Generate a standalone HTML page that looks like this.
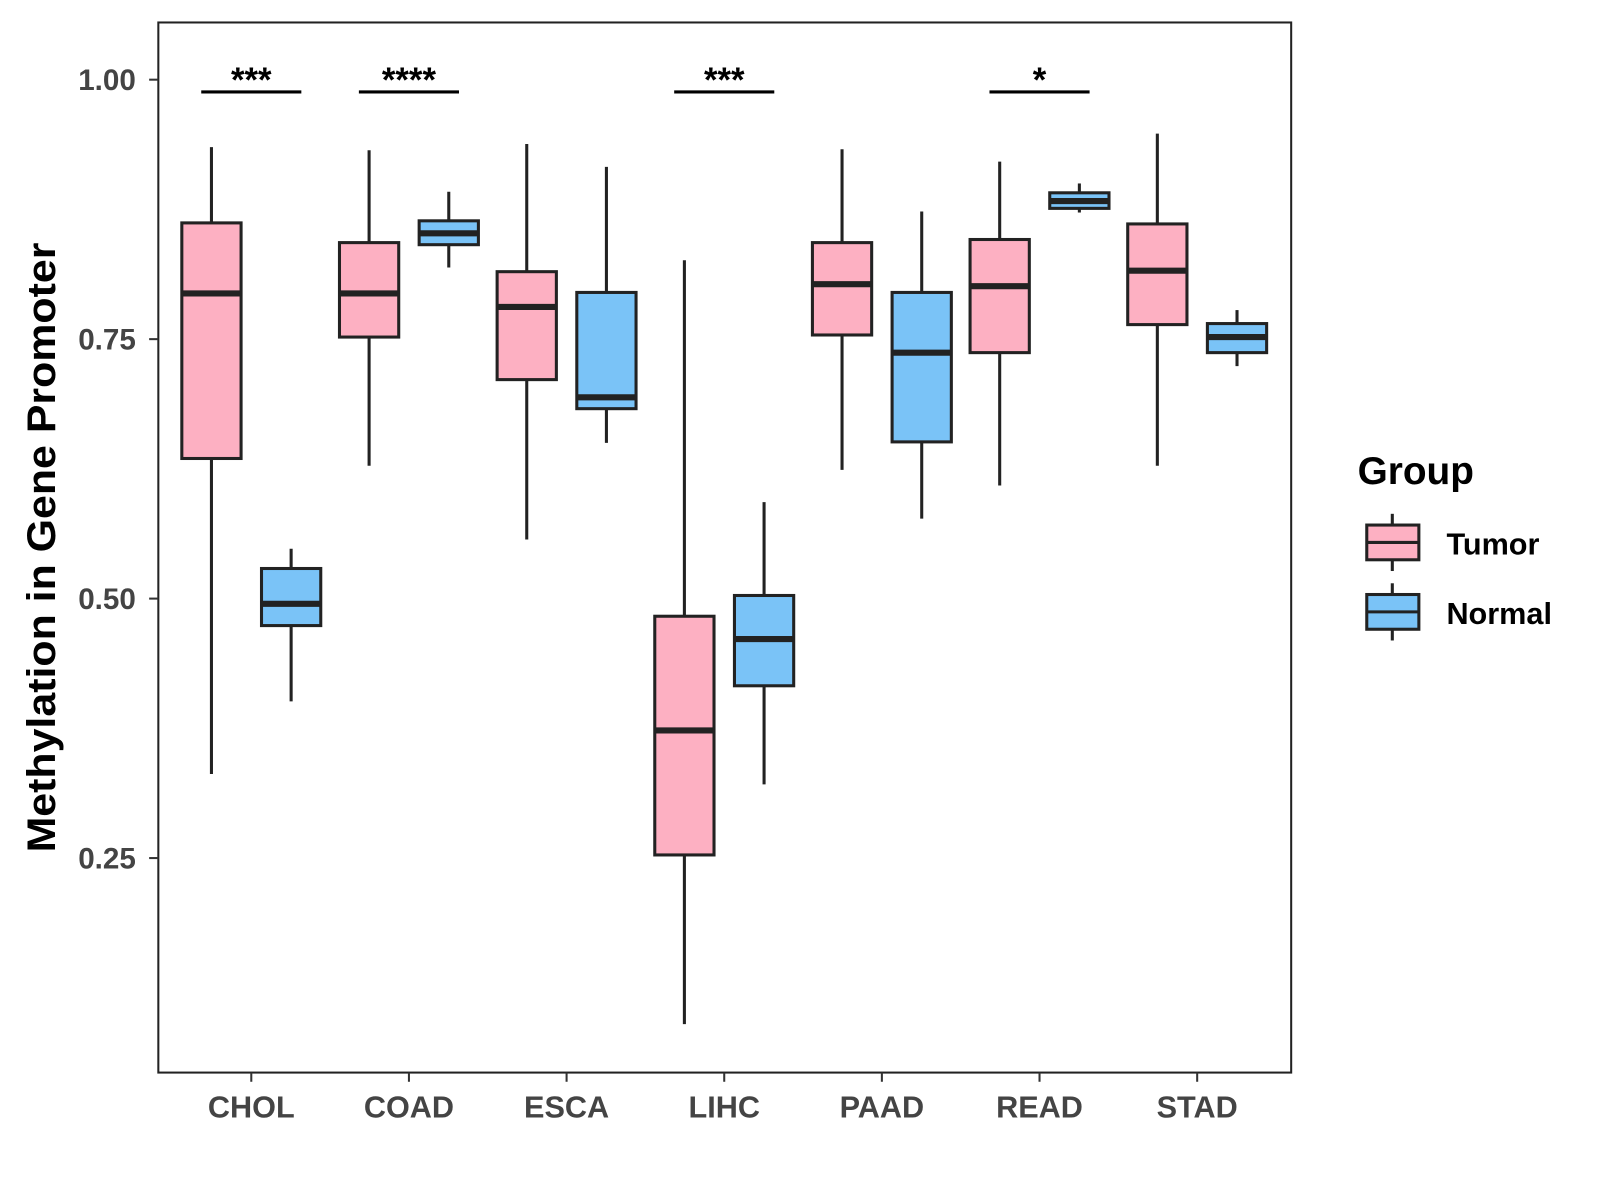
<!DOCTYPE html>
<html><head><meta charset="utf-8"><style>
html,body{margin:0;padding:0;background:#fff;}
svg{display:block;font-family:"Liberation Sans",sans-serif;}
</style></head><body>
<svg id="chart" width="1600" height="1200" viewBox="0 0 1600 1200" xmlns="http://www.w3.org/2000/svg">
<rect x="0" y="0" width="1600" height="1200" fill="#fff"/>
<g transform="scale(1.0215)">
<g id="marks"></g>
<g id="axes"></g>
<g>
  <text x="1329" y="474" font-size="38" font-weight="bold" fill="#000">Group</text>
  <g>
    <line x1="1363" y1="503" x2="1363" y2="559" stroke="#222" stroke-width="3"/>
    <rect x="1338" y="514" width="51" height="34" fill="#FDB0C2" stroke="#222" stroke-width="3"/>
    <line x1="1338" y1="531" x2="1389" y2="531" stroke="#222" stroke-width="3"/>
    <text x="1416" y="543" font-size="30" font-weight="bold" fill="#000">Tumor</text>
  </g>
  <g>
    <line x1="1363" y1="571" x2="1363" y2="627" stroke="#222" stroke-width="3"/>
    <rect x="1338" y="582" width="51" height="34" fill="#7AC3F7" stroke="#222" stroke-width="3"/>
    <line x1="1338" y1="599" x2="1389" y2="599" stroke="#222" stroke-width="3"/>
    <text x="1416" y="611" font-size="30" font-weight="bold" fill="#000">Normal</text>
  </g>
</g>
</g>
</svg>
<script>
const categories = ["CHOL","COAD","ESCA","LIHC","PAAD","READ","STAD"];
// [low, q1, median, q3, high]
const tumorStats = [
  [0.331,0.635,0.794,0.862,0.935],
  [0.628,0.752,0.794,0.843,0.932],
  [0.557,0.711,0.781,0.815,0.938],
  [0.090,0.253,0.373,0.483,0.826],
  [0.624,0.754,0.803,0.843,0.933],
  [0.609,0.737,0.801,0.846,0.921],
  [0.628,0.764,0.816,0.861,0.948]
];
const normalStats = [
  [0.401,0.474,0.495,0.529,0.548],
  [0.819,0.841,0.852,0.864,0.892],
  [0.650,0.683,0.694,0.795,0.916],
  [0.321,0.416,0.461,0.503,0.593],
  [0.577,0.651,0.737,0.795,0.873],
  [0.872,0.876,0.883,0.891,0.900],
  [0.724,0.737,0.752,0.765,0.778]
];
const sigLabels = ["***","****","","***","","*",""];
const yTicks = [0.25,0.50,0.75,1.00];
const yTickLabels = ["0.25","0.50","0.75","1.00"];

const NS="http://www.w3.org/2000/svg";
const panel={x:155,y:22,w:1109,h:1028};
function yScale(v){return 78+(1-v)*1016;}
function xScale(i){return 246+i*154.33;}
function el(t,a,p){const e=document.createElementNS(NS,t);for(const k in a)e.setAttribute(k,a[k]);p.appendChild(e);return e;}
const marks=document.getElementById('marks'), axes=document.getElementById('axes');

const frame=el('rect',{x:panel.x,y:panel.y,width:panel.w,height:panel.h,fill:'none',stroke:'#222','stroke-width':2},axes);



yTicks.forEach((v,i)=>{
  const y=yScale(v);
  el('line',{x1:146,x2:155,y1:y,y2:y,stroke:'#333','stroke-width':2},axes);
  const t=el('text',{x:133,y:y+10,'text-anchor':'end','font-size':29,'font-weight':'bold',fill:'#444'},axes);
  t.textContent=yTickLabels[i];
  
  
});
categories.forEach((c,i)=>{
  const x=xScale(i);
  el('line',{x1:x,x2:x,y1:1050,y2:1059,stroke:'#333','stroke-width':2},axes);
  const t=el('text',{x:x,y:1094,'text-anchor':'middle','font-size':30,'font-weight':'bold',fill:'#444'},axes);
  t.textContent=c;
  
  
});
const yt=el('text',{x:0,y:0,'text-anchor':'middle','font-size':39,'font-weight':'bold',fill:'#000',textLength:597,lengthAdjust:'spacingAndGlyphs',transform:'translate(54,536) rotate(-90)'},axes);
yt.textContent='Methylation in Gene Promoter';



function drawBox(cx,s,fill,name){
  const g=el('g',{},marks);
  
  
  const hw=29;
  el('line',{x1:cx,x2:cx,y1:yScale(s[0]),y2:yScale(s[4]),stroke:'#222','stroke-width':3},g);
  el('rect',{x:cx-hw,y:yScale(s[3]),width:hw*2,height:yScale(s[1])-yScale(s[3]),fill:fill,stroke:'#222','stroke-width':3},g);
  el('line',{x1:cx-hw,x2:cx+hw,y1:yScale(s[2]),y2:yScale(s[2]),stroke:'#222','stroke-width':6},g);
}
categories.forEach((c,i)=>{
  const x=xScale(i);
  drawBox(x-39,tumorStats[i],'#FDB0C2','box-'+c.toLowerCase()+'-tumor');
  drawBox(x+39,normalStats[i],'#7AC3F7','box-'+c.toLowerCase()+'-normal');
  if(sigLabels[i]){
    const g=el('g',{},marks);
    
    
    el('line',{x1:x-49,x2:x+49,y1:90,y2:90,stroke:'#000','stroke-width':3},g);
    const t=el('text',{x:x,y:90,'text-anchor':'middle','font-size':34,'font-weight':'bold',fill:'#000'},g);
    t.textContent=sigLabels[i];
  }
});
</script>
</body></html>
